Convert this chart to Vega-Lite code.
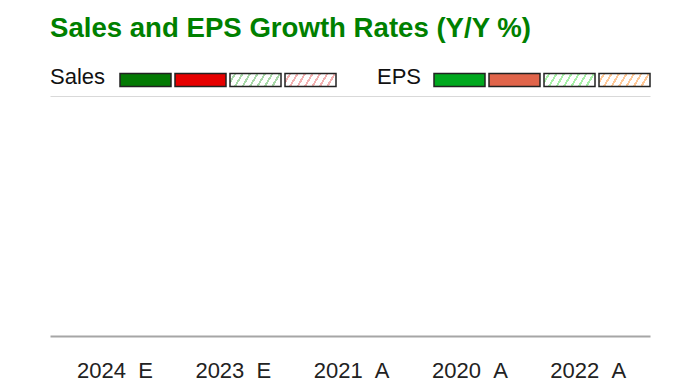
{
  "$schema": "https://vega.github.io/schema/vega-lite/v6.json",
  "width": 600,
  "height": 240,
  "autosize": {"type": "none"},
  "padding": {"left": 50, "top": 96, "right": 50, "bottom": 51},
  "background": "white",
  "config": {"view": {"stroke": null}, "font": "Liberation Sans"},
  "title": {
    "text": "Sales and EPS Growth Rates (Y/Y %)",
    "anchor": "start",
    "font": "Liberation Sans",
    "fontSize": 27.6,
    "fontWeight": "bold",
    "color": "#008000",
    "offset": 10
  },
  "data": {
    "values": [
      {"period": "2024\u00a0\u00a0E", "sales": null, "eps": null, "salesKey": null, "epsKey": null},
      {"period": "2023\u00a0\u00a0E", "sales": null, "eps": null, "salesKey": null, "epsKey": null},
      {"period": "2021\u00a0\u00a0A", "sales": null, "eps": null, "salesKey": null, "epsKey": null},
      {"period": "2020\u00a0\u00a0A", "sales": null, "eps": null, "salesKey": null, "epsKey": null},
      {"period": "2022\u00a0\u00a0A", "sales": null, "eps": null, "salesKey": null, "epsKey": null}
    ]
  },
  "layer": [
    {
      "mark": {"type": "text"},
      "encoding": {
        "x": {
          "field": "period",
          "type": "nominal",
          "sort": null,
          "scale": {"paddingOuter": 0.136, "paddingInner": 0.2, "align": 0.55},
          "axis": {"orient": "top", "labels": false, "ticks": false, "title": null, "domainColor": "#d9d9d9", "domainWidth": 1}
        },
        "text": {"value": ""}
      }
    },
    {
      "mark": {"type": "bar"},
      "encoding": {
        "x": {
          "field": "period",
          "type": "nominal",
          "sort": null,
          "axis": {"orient": "bottom", "title": null, "ticks": false, "labelAngle": 0, "labelFontSize": 22, "labelColor": "#222222", "labelPadding": 24, "domainColor": "#a6a6a6", "domainWidth": 2}
        },
        "xOffset": {"datum": "Sales"},
        "y": {"field": "sales", "type": "quantitative", "axis": null},
        "fill": {
          "field": "salesKey",
          "type": "nominal",
          "scale": {
            "domain": ["Sales up (actual)", "Sales down (actual)", "Sales up (estimate)", "Sales down (estimate)"],
            "range": [
              "#047a04",
              "#e60000",
              {"expr": "{gradient:'linear',x1:0,y1:0,x2:1,y2:0.15,stops:[{offset:0,color:'#ffffff'},{offset:0.0786,color:'#ffffff'},{offset:0.0786,color:'#a8d8a8'},{offset:0.1214,color:'#a8d8a8'},{offset:0.1214,color:'#ffffff'},{offset:0.2214,color:'#ffffff'},{offset:0.2214,color:'#a8d8a8'},{offset:0.2643,color:'#a8d8a8'},{offset:0.2643,color:'#ffffff'},{offset:0.3643,color:'#ffffff'},{offset:0.3643,color:'#a8d8a8'},{offset:0.4071,color:'#a8d8a8'},{offset:0.4071,color:'#ffffff'},{offset:0.5071,color:'#ffffff'},{offset:0.5071,color:'#a8d8a8'},{offset:0.55,color:'#a8d8a8'},{offset:0.55,color:'#ffffff'},{offset:0.65,color:'#ffffff'},{offset:0.65,color:'#a8d8a8'},{offset:0.6929,color:'#a8d8a8'},{offset:0.6929,color:'#ffffff'},{offset:0.7929,color:'#ffffff'},{offset:0.7929,color:'#a8d8a8'},{offset:0.8357,color:'#a8d8a8'},{offset:0.8357,color:'#ffffff'},{offset:0.9357,color:'#ffffff'},{offset:0.9357,color:'#a8d8a8'},{offset:0.9786,color:'#a8d8a8'},{offset:0.9786,color:'#ffffff'},{offset:1,color:'#ffffff'}]}"},
              {"expr": "{gradient:'linear',x1:0,y1:0,x2:1,y2:0.15,stops:[{offset:0,color:'#ffffff'},{offset:0.0786,color:'#ffffff'},{offset:0.0786,color:'#f2b0b0'},{offset:0.1214,color:'#f2b0b0'},{offset:0.1214,color:'#ffffff'},{offset:0.2214,color:'#ffffff'},{offset:0.2214,color:'#f2b0b0'},{offset:0.2643,color:'#f2b0b0'},{offset:0.2643,color:'#ffffff'},{offset:0.3643,color:'#ffffff'},{offset:0.3643,color:'#f2b0b0'},{offset:0.4071,color:'#f2b0b0'},{offset:0.4071,color:'#ffffff'},{offset:0.5071,color:'#ffffff'},{offset:0.5071,color:'#f2b0b0'},{offset:0.55,color:'#f2b0b0'},{offset:0.55,color:'#ffffff'},{offset:0.65,color:'#ffffff'},{offset:0.65,color:'#f2b0b0'},{offset:0.6929,color:'#f2b0b0'},{offset:0.6929,color:'#ffffff'},{offset:0.7929,color:'#ffffff'},{offset:0.7929,color:'#f2b0b0'},{offset:0.8357,color:'#f2b0b0'},{offset:0.8357,color:'#ffffff'},{offset:0.9357,color:'#ffffff'},{offset:0.9357,color:'#f2b0b0'},{offset:0.9786,color:'#f2b0b0'},{offset:0.9786,color:'#ffffff'},{offset:1,color:'#ffffff'}]}"}
            ]
          },
          "legend": {
            "orient": "none",
            "legendX": 0,
            "legendY": -43,
            "direction": "horizontal",
            "title": ["", "Sales"],
            "titleOrient": "left",
            "titleLineHeight": 12,
            "titleFontSize": 22,
            "titleFontWeight": "normal",
            "titleColor": "#111111",
            "titlePadding": 13,
            "labelExpr": "''",
            "labelOffset": 0,
            "labelFontSize": 1,
            "symbolType": "M-1,-0.255H1V0.255H-1Z",
            "symbolSize": 2601,
            "symbolStrokeColor": "#222222",
            "symbolStrokeWidth": 1.5,
            "symbolOpacity": 1,
            "columnPadding": -2,
            "padding": 0
          }
        }
      }
    },
    {
      "mark": {"type": "bar"},
      "encoding": {
        "x": {"field": "period", "type": "nominal", "sort": null, "axis": null},
        "xOffset": {"datum": "EPS"},
        "y": {"field": "eps", "type": "quantitative", "axis": null},
        "fill": {
          "field": "epsKey",
          "type": "nominal",
          "scale": {
            "domain": ["EPS up (actual)", "EPS down (actual)", "EPS up (estimate)", "EPS down (estimate)"],
            "range": [
              "#00a81e",
              "#e0644a",
              {"expr": "{gradient:'linear',x1:0,y1:0,x2:1,y2:0.15,stops:[{offset:0,color:'#ffffff'},{offset:0.0786,color:'#ffffff'},{offset:0.0786,color:'#a6f0a6'},{offset:0.1214,color:'#a6f0a6'},{offset:0.1214,color:'#ffffff'},{offset:0.2214,color:'#ffffff'},{offset:0.2214,color:'#a6f0a6'},{offset:0.2643,color:'#a6f0a6'},{offset:0.2643,color:'#ffffff'},{offset:0.3643,color:'#ffffff'},{offset:0.3643,color:'#a6f0a6'},{offset:0.4071,color:'#a6f0a6'},{offset:0.4071,color:'#ffffff'},{offset:0.5071,color:'#ffffff'},{offset:0.5071,color:'#a6f0a6'},{offset:0.55,color:'#a6f0a6'},{offset:0.55,color:'#ffffff'},{offset:0.65,color:'#ffffff'},{offset:0.65,color:'#a6f0a6'},{offset:0.6929,color:'#a6f0a6'},{offset:0.6929,color:'#ffffff'},{offset:0.7929,color:'#ffffff'},{offset:0.7929,color:'#a6f0a6'},{offset:0.8357,color:'#a6f0a6'},{offset:0.8357,color:'#ffffff'},{offset:0.9357,color:'#ffffff'},{offset:0.9357,color:'#a6f0a6'},{offset:0.9786,color:'#a6f0a6'},{offset:0.9786,color:'#ffffff'},{offset:1,color:'#ffffff'}]}"},
              {"expr": "{gradient:'linear',x1:0,y1:0,x2:1,y2:0.15,stops:[{offset:0,color:'#ffffff'},{offset:0.0786,color:'#ffffff'},{offset:0.0786,color:'#ffc896'},{offset:0.1214,color:'#ffc896'},{offset:0.1214,color:'#ffffff'},{offset:0.2214,color:'#ffffff'},{offset:0.2214,color:'#ffc896'},{offset:0.2643,color:'#ffc896'},{offset:0.2643,color:'#ffffff'},{offset:0.3643,color:'#ffffff'},{offset:0.3643,color:'#ffc896'},{offset:0.4071,color:'#ffc896'},{offset:0.4071,color:'#ffffff'},{offset:0.5071,color:'#ffffff'},{offset:0.5071,color:'#ffc896'},{offset:0.55,color:'#ffc896'},{offset:0.55,color:'#ffffff'},{offset:0.65,color:'#ffffff'},{offset:0.65,color:'#ffc896'},{offset:0.6929,color:'#ffc896'},{offset:0.6929,color:'#ffffff'},{offset:0.7929,color:'#ffffff'},{offset:0.7929,color:'#ffc896'},{offset:0.8357,color:'#ffc896'},{offset:0.8357,color:'#ffffff'},{offset:0.9357,color:'#ffffff'},{offset:0.9357,color:'#ffc896'},{offset:0.9786,color:'#ffc896'},{offset:0.9786,color:'#ffffff'},{offset:1,color:'#ffffff'}]}"}
            ]
          },
          "legend": {
            "orient": "none",
            "legendX": 327,
            "legendY": -43,
            "direction": "horizontal",
            "title": ["", "EPS"],
            "titleOrient": "left",
            "titleLineHeight": 12,
            "titleFontSize": 22,
            "titleFontWeight": "normal",
            "titleColor": "#111111",
            "titlePadding": 11,
            "labelExpr": "''",
            "labelOffset": 0,
            "labelFontSize": 1,
            "symbolType": "M-1,-0.255H1V0.255H-1Z",
            "symbolSize": 2601,
            "symbolStrokeColor": "#222222",
            "symbolStrokeWidth": 1.5,
            "symbolOpacity": 1,
            "columnPadding": -2,
            "padding": 0
          }
        }
      }
    }
  ],
  "resolve": {"scale": {"fill": "independent"}, "axis": {"x": "independent"}}
}
